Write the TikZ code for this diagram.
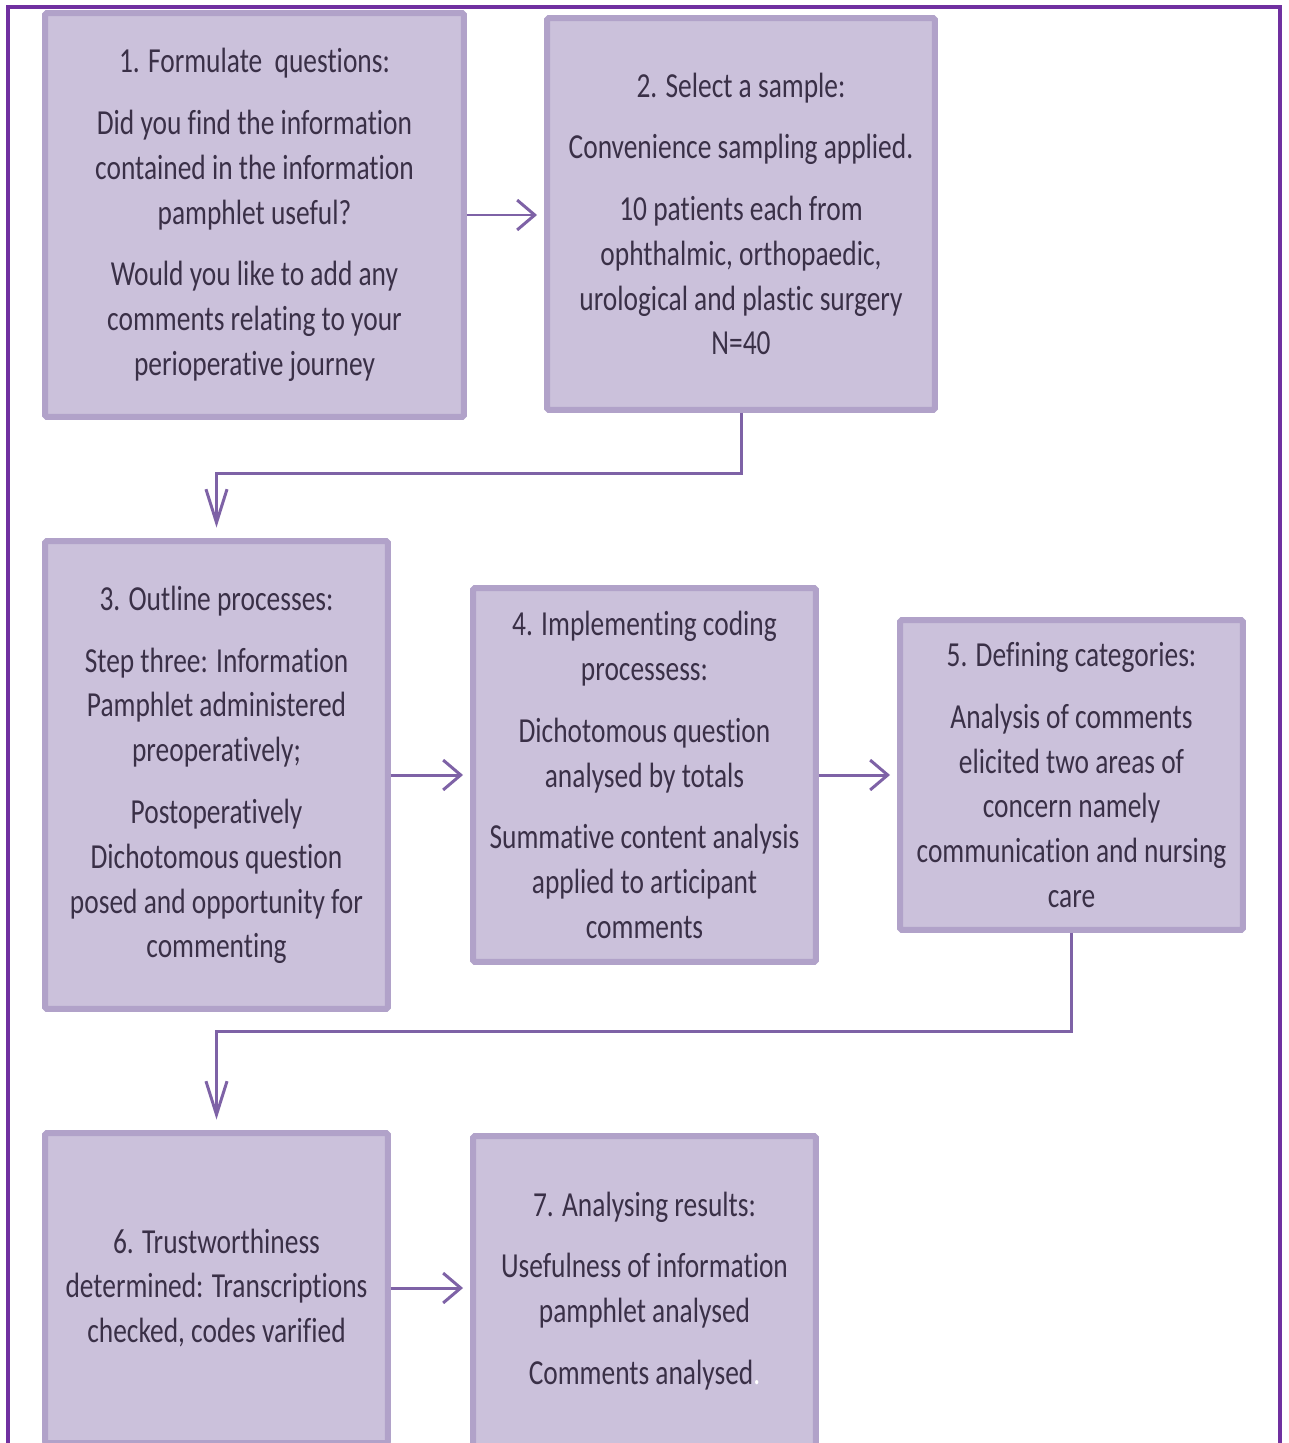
\documentclass[tikz,border=0pt]{standalone}
\usepackage{fontspec}
\setmainfont[FakeStretch=0.78,Ligatures={NoCommon}]{Carlito}
\usetikzlibrary{positioning,arrows.meta,calc}
\definecolor{BoxFill}{HTML}{CBC1DB}
\definecolor{BoxEdge}{HTML}{B1A2C9}
\definecolor{FlowPurple}{HTML}{7E62A6}
\definecolor{FramePurple}{HTML}{7030A0}
\definecolor{TextDark}{HTML}{3A3047}
\newcommand{\stepfont}{\fontsize{20}{25.5}\selectfont}
\newcommand{\pgap}{\\[9.6pt]}

\begin{document}
\begin{tikzpicture}[x=0.02cm,y=-0.02cm,
  stepbox/.style={draw=BoxEdge,fill=BoxFill,line width=3.4pt,rounded corners=1pt,align=center,text=TextDark,font=\stepfont,inner sep=0pt},
  flowh/.style={FlowPurple,line width=1.7pt,shorten >=4pt,-{Straight Barb[length=10pt,width=17pt,line width=1.7pt]}},
  flowv/.style={FlowPurple,line width=1.7pt,shorten >=6pt,-{Straight Barb[length=19pt,width=12pt,line width=1.7pt]}}]
\useasboundingbox (0,0) rectangle (1288,1443);
\draw[FramePurple,line width=1.9pt] (8,1470) -- (8,7) -- (1280,7) -- (1280,1470);

\node[stepbox,minimum width=8.38cm,minimum height=8.08cm] (formulate) at (254.5,215)
  {1. Formulate~ questions:\pgap Did you find the information\\ contained in the information\\ pamphlet useful?\pgap Would you like to add any\\ comments relating to your\\ perioperative journey};
\node[stepbox,minimum width=7.76cm,minimum height=7.84cm] (sample) at (741,214)
  {2. Select a sample:\pgap Convenience sampling applied.\pgap 10 patients each from\\ ophthalmic, orthopaedic,\\ urological and plastic surgery\\ N=40};
\node[stepbox,minimum width=6.86cm,minimum height=9.36cm] (outline) at (216.5,775)
  {3. Outline processes:\pgap Step three: Information\\ Pamphlet administered\\ preoperatively;\pgap Postoperatively\\ Dichotomous question\\ posed and opportunity for\\ commenting};
\node[stepbox,minimum width=6.86cm,minimum height=7.48cm] (coding) at (644.5,775)
  {4. Implementing coding\\ processess:\pgap Dichotomous question\\ analysed by totals\pgap Summative content analysis\\ applied to articipant\\ comments};
\node[stepbox,minimum width=6.86cm,minimum height=6.2cm] (categories) at (1071.5,775)
  {5. Defining categories:\pgap Analysis of comments\\ elicited two areas of\\ concern namely\\ communication and nursing\\ care};
\node[stepbox,minimum width=6.86cm,minimum height=6.2cm] (trust) at (216.5,1288)
  {6. Trustworthiness\\ determined: Transcriptions\\ checked, codes varified};
\node[stepbox,minimum width=6.86cm,minimum height=6.2cm] (results) at (644.5,1291)
  {7. Analysing results:\pgap Usefulness of information\\ pamphlet analysed\pgap Comments analysed\textcolor{white}{.}};

\draw[flowh] (formulate.east) -- (formulate.east -| sample.west);
\draw[flowv] (sample.south) -- ++(0,61) -| (outline.north);
\draw[flowh] (outline.east) -- (outline.east -| coding.west);
\draw[flowh] (coding.east) -- (coding.east -| categories.west);
\draw[flowv] (categories.south) -- ++(0,99) -| (trust.north);
\draw[flowh] (trust.east) -- (trust.east -| results.west);
\end{tikzpicture}
\end{document}
